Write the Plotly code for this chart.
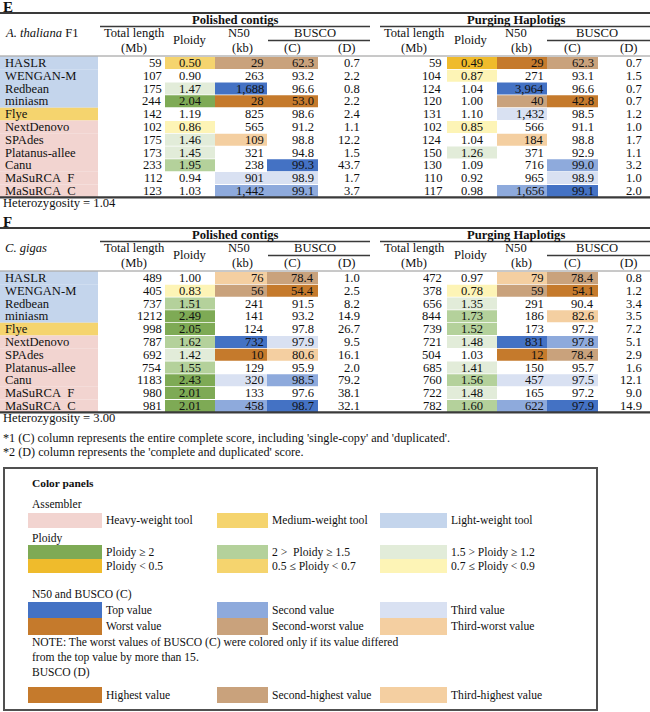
import plotly.graph_objects as go

# ---------------- data ----------------
assemblers = ["HASLR", "WENGAN-M", "Redbean", "miniasm", "Flye", "NextDenovo",
              "SPAdes", "Platanus-allee", "Canu", "MaSuRCA\u00a0\u00a0F", "MaSuRCA\u00a0\u00a0C"]
assembler_weight = ["light", "light", "light", "light", "medium", "heavy",
                    "heavy", "heavy", "heavy", "heavy", "heavy"]

ath_polished_length = [59, 107, 175, 244, 142, 102, 175, 173, 233, 112, 123]
ath_polished_ploidy = [0.50, 0.90, 1.47, 2.04, 1.19, 0.86, 1.46, 1.45, 1.95, 0.94, 1.03]
ath_polished_n50 = [29, 263, 1688, 28, 825, 565, 109, 321, 238, 901, 1442]
ath_polished_busco_c = [62.3, 93.2, 96.6, 53.0, 98.6, 91.2, 98.8, 94.8, 99.3, 98.9, 99.1]
ath_polished_busco_d = [0.7, 2.2, 0.8, 2.2, 2.4, 1.1, 12.2, 1.5, 43.7, 1.7, 3.7]
ath_purged_length = [59, 104, 124, 120, 131, 102, 124, 150, 130, 110, 117]
ath_purged_ploidy = [0.49, 0.87, 1.04, 1.00, 1.10, 0.85, 1.04, 1.26, 1.09, 0.92, 0.98]
ath_purged_n50 = [29, 271, 3964, 40, 1432, 566, 184, 371, 716, 965, 1656]
ath_purged_busco_c = [62.3, 93.1, 96.6, 42.8, 98.5, 91.1, 98.8, 92.9, 99.0, 98.9, 99.1]
ath_purged_busco_d = [0.7, 1.5, 0.7, 0.7, 1.2, 1.0, 1.7, 1.1, 3.2, 1.0, 2.0]
ath_heterozygosity = "1.04"

cgi_polished_length = [489, 405, 737, 1212, 998, 787, 692, 754, 1183, 980, 981]
cgi_polished_ploidy = [1.00, 0.83, 1.51, 2.49, 2.05, 1.62, 1.42, 1.55, 2.43, 2.01, 2.01]
cgi_polished_n50 = [76, 56, 241, 141, 124, 732, 10, 129, 320, 133, 458]
cgi_polished_busco_c = [78.4, 54.4, 91.5, 93.2, 97.8, 97.9, 80.6, 95.9, 98.5, 97.6, 98.7]
cgi_polished_busco_d = [1.0, 2.5, 8.2, 14.9, 26.7, 9.5, 16.1, 2.0, 79.2, 38.1, 32.1]
cgi_purged_length = [472, 378, 656, 844, 739, 721, 504, 685, 760, 722, 782]
cgi_purged_ploidy = [0.97, 0.78, 1.35, 1.73, 1.52, 1.48, 1.03, 1.41, 1.56, 1.48, 1.60]
cgi_purged_n50 = [79, 59, 291, 186, 173, 831, 12, 150, 457, 165, 622]
cgi_purged_busco_c = [78.4, 54.1, 90.4, 82.6, 97.2, 97.8, 78.4, 95.7, 97.5, 97.2, 97.9]
cgi_purged_busco_d = [0.8, 1.2, 3.4, 3.5, 7.2, 5.1, 2.9, 1.6, 12.1, 9.0, 14.9]
cgi_heterozygosity = "3.00"

footnotes = ["*1 (C) column represents the entire complete score, including 'single-copy' and 'duplicated'.",
             "*2 (D) column represents the 'complete and duplicated' score."]

# ---------------- styles ----------------
FONT = "Liberation Serif, Times New Roman, serif"
TXT = "#111111"
LINE = "#3a3a3a"
W_COL = {"light": "#c4d5ec", "medium": "#f5d46e", "heavy": "#f2d4d0"}
P2, P15, P12 = "#7eaa55", "#b4d19b", "#e2ecd9"
PLT05, P05, P07 = "#efbb2c", "#f5d46e", "#fdf4b6"
TOPC = ["#4472c4", "#8eaadc", "#d9e1f2"]
WORSTC = ["#c57a2c", "#c9a27c", "#f4cfa1"]

FS = 12.6   # table font
LFS = 11.6  # legend font


def ploidy_color(p):
    if p >= 2:
        return P2
    if p >= 1.5:
        return P15
    if p >= 1.2:
        return P12
    if p < 0.5:
        return PLT05
    if p < 0.7:
        return P05
    if p < 0.9:
        return P07
    return None


def rank_colors(vals, tolerance=None):
    uniq = sorted(set(vals), reverse=True)
    out = []
    for v in vals:
        hi = uniq.index(v)
        lo = len(uniq) - 1 - hi
        if hi < 3:
            out.append(TOPC[hi])
        elif lo < 3 and (tolerance is None or uniq[0] - v > tolerance):
            out.append(WORSTC[lo])
        else:
            out.append(None)
    return out


shapes = []
annots = []


def text(x, y, s, anchor="left", size=FS, color=TXT):
    annots.append(dict(x=x, y=y, xref="x", yref="y", text=s, showarrow=False,
                       xanchor=anchor, yanchor="middle", borderpad=0,
                       font=dict(family=FONT, size=size, color=color)))


def rect(x0, x1, y0, y1, color, line=None):
    d = dict(type="rect", xref="x", yref="y", x0=x0, x1=x1, y0=y0, y1=y1,
             fillcolor=color if color else "rgba(0,0,0,0)", layer="below")
    d["line"] = dict(width=0) if line is None else line
    shapes.append(d)


def hline(x0, x1, y, w=1.5, color=LINE):
    shapes.append(dict(type="line", xref="x", yref="y", x0=x0, x1=x1, y0=y, y1=y,
                       line=dict(color=color, width=w)))


ROW_H = 12.8
HALVES = [
    dict(x_len=163, ploidy=(165, 215), n50=(215, 267), c=(267, 318), d_x=361,
         hdr=dict(title=("Polished contigs", 235, 100, 370), tl=134, pl=190, n50=239, kb=242,
                  busco=(315, 268, 370), cc=292, dd=346)),
    dict(x_len=443, ploidy=(447, 497), n50=(497, 547), c=(547, 598), d_x=643,
         hdr=dict(title=("Purging Haplotigs", 516, 380, 650), tl=414, pl=471, n50=516, kb=521,
                  busco=(597, 547, 650), cc=572, dd=628)),
]

tables = [
    dict(letter="E", top=13, species="<i>A. thaliana</i> F1", het=ath_heterozygosity,
         halves=[(ath_polished_length, ath_polished_ploidy, ath_polished_n50, ath_polished_busco_c, ath_polished_busco_d),
                 (ath_purged_length, ath_purged_ploidy, ath_purged_n50, ath_purged_busco_c, ath_purged_busco_d)]),
    dict(letter="F", top=228, species="<i>C. gigas</i>", het=cgi_heterozygosity,
         halves=[(cgi_polished_length, cgi_polished_ploidy, cgi_polished_n50, cgi_polished_busco_c, cgi_polished_busco_d),
                 (cgi_purged_length, cgi_purged_ploidy, cgi_purged_n50, cgi_purged_busco_c, cgi_purged_busco_d)]),
]

for t in tables:
    top = t["top"]
    text(2, top - 6, "<b>" + t["letter"] + "</b>", size=15)
    hline(0, 650, top, w=2.2)
    text(4, top + 20, t["species"])
    for (length, ploidy, n50, bc, bd), g in zip(t["halves"], HALVES):
        h = g["hdr"]
        title, tcx, ux0, ux1 = h["title"]
        text(tcx, top + 7, "<b>" + title + "</b>", anchor="center")
        hline(ux0, ux1, top + 13.5, w=1.6)
        text(h["tl"], top + 20, "Total length", anchor="center")
        text(h["tl"], top + 35, "(Mb)", anchor="center")
        text(h["pl"], top + 27, "Ploidy", anchor="center")
        text(h["n50"], top + 20, "N50", anchor="center")
        text(h["kb"], top + 35, "(kb)", anchor="center")
        bx, bx0, bx1 = h["busco"]
        text(bx, top + 20, "BUSCO", anchor="center")
        hline(bx0, bx1, top + 27.5, w=1.3)
        text(h["cc"], top + 35, "(C)", anchor="center")
        text(h["dd"], top + 35, "(D)", anchor="center")

        p_cols = [ploidy_color(p) for p in ploidy]
        n_cols = rank_colors(n50)
        c_cols = rank_colors(bc, tolerance=15)
        for i in range(len(assemblers)):
            y0 = top + 43.5 + i * ROW_H
            y1 = y0 + ROW_H
            yc = (y0 + y1) / 2
            for col, (a, b) in ((p_cols[i], g["ploidy"]), (n_cols[i], g["n50"]), (c_cols[i], g["c"])):
                if col:
                    rect(a, b, y0 + 0.4, y1 - 0.4, col)
            text(g["x_len"], yc, str(length[i]), anchor="right")
            text(sum(g["ploidy"]) / 2, yc, f"{ploidy[i]:.2f}", anchor="center")
            text(g["n50"][1] - 2, yc, f"{n50[i]:,}", anchor="right")
            text(g["c"][1] - 3, yc, f"{bc[i]:.1f}", anchor="right")
            text(g["d_x"], yc, f"{bd[i]:.1f}", anchor="right")

    hline(0, 650, top + 43, w=0.8, color="#777777")
    for i, (name, wt) in enumerate(zip(assemblers, assembler_weight)):
        y0 = top + 43.5 + i * ROW_H
        rect(0, 98, y0, y0 + ROW_H, W_COL[wt])
        text(4, y0 + ROW_H / 2, name)
    bottom = top + 43.5 + len(assemblers) * ROW_H
    hline(0, 650, bottom, w=2.2)
    text(2, bottom + 6, "Heterozygosity = " + t["het"])

text(2, 438, footnotes[0], size=12.2)
text(2, 452, footnotes[1], size=12.2)

# ---------------- legend panel ----------------
rect(4, 597, 468, 710, None, line=dict(color="#505050", width=2))
LX = 31
SW = [(28, 102, 105), (217, 268, 271), (380, 447, 450)]
text(LX, 483, "<b>Color panels</b>", size=11.4)
text(LX, 504, "Assembler", size=LFS)
legend_rows = [
    (513, 528, [(W_COL["heavy"], "Heavy-weight tool"), (W_COL["medium"], "Medium-weight tool"),
                (W_COL["light"], "Light-weight tool")]),
    (545, 559, [(P2, "Ploidy ≥ 2"), (P15, "2 &gt;\u00a0\u00a0Ploidy ≥ 1.5"), (P12, "1.5 &gt; Ploidy ≥ 1.2")]),
    (559, 573, [(PLT05, "Ploidy &lt; 0.5"), (P05, "0.5 ≤ Ploidy &lt; 0.7"), (P07, "0.7 ≤ Ploidy &lt; 0.9")]),
    (602, 618, [(TOPC[0], "Top value"), (TOPC[1], "Second value"), (TOPC[2], "Third value")]),
    (618, 635, [(WORSTC[0], "Worst value"), (WORSTC[1], "Second-worst value"), (WORSTC[2], "Third-worst value")]),
    (687, 703, [(WORSTC[0], "Highest value"), (WORSTC[1], "Second-highest value"), (WORSTC[2], "Third-highest value")]),
]
for y0, y1, items in legend_rows:
    for (sx0, sx1, tx), (col, lab) in zip(SW, items):
        rect(sx0, sx1, y0, y1, col)
        text(tx, (y0 + y1) / 2, lab, size=LFS)
text(LX, 538.5, "Ploidy", size=LFS)
text(LX, 594, "N50 and BUSCO (C)", size=LFS)
text(LX, 642, "NOTE: The worst values of BUSCO (C) were colored only if its value differed", size=LFS)
text(LX, 657, "from the top value by more than 15.", size=LFS)
text(LX, 672, "BUSCO (D)", size=LFS)

fig = go.Figure()
fig.add_trace(go.Scatter(x=[0, 650], y=[0, 712], mode="markers",
                         marker=dict(opacity=0), hoverinfo="skip", showlegend=False))
fig.update_layout(
    width=650, height=712, margin=dict(l=0, r=0, t=0, b=0),
    paper_bgcolor="white", plot_bgcolor="white",
    xaxis=dict(range=[0, 650], visible=False, fixedrange=True),
    yaxis=dict(range=[712, 0], visible=False, fixedrange=True),
    shapes=shapes, annotations=annots, showlegend=False,
)
fig.write_html("out.html", config={"displayModeBar": False},
               post_script="document.body.style.margin='0';document.body.style.overflow='hidden';")
